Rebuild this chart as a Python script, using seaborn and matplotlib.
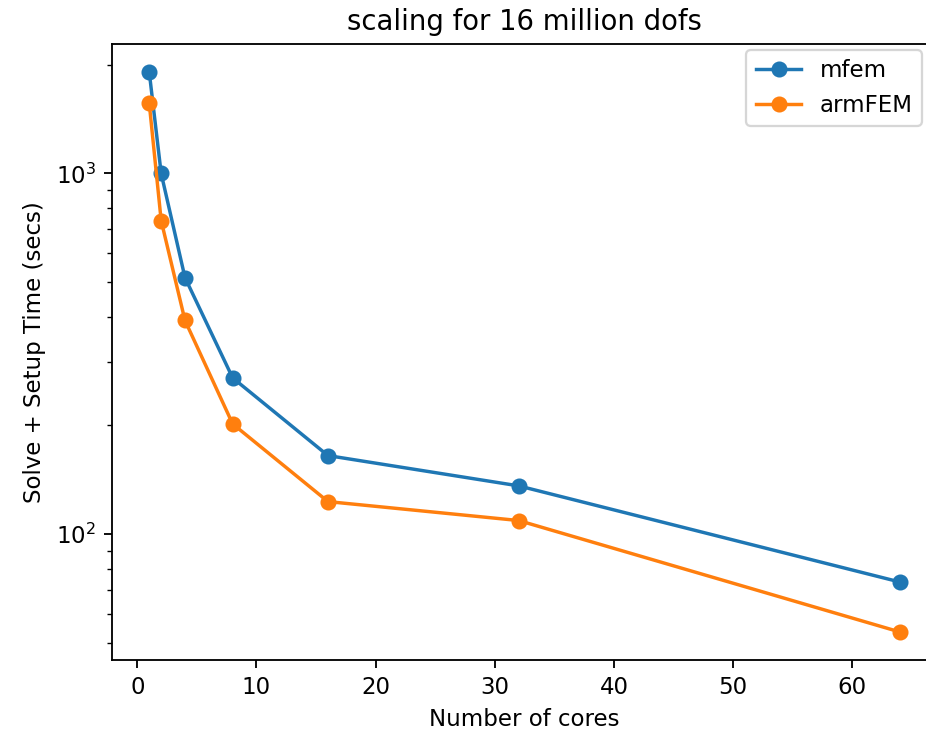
import matplotlib
matplotlib.use("Agg")
import matplotlib.pyplot as plt
import seaborn as sns
import pandas as pd

cores = [1, 2, 4, 8, 16, 32, 64]
mfem = [1910, 1000, 514, 271, 165, 136, 73.6]
armfem = [1564, 740, 391, 202, 123, 109, 53.5]

W, H, DPI = 926, 731, 165
left, right, top, bottom = 111.7, 937.5, 44, 660
fig = plt.figure(figsize=(W / DPI, H / DPI), dpi=DPI)
ax = fig.add_axes([left / W, 1 - bottom / H, (right - left) / W, (bottom - top) / H])

colors = ["#1f77b4", "#ff7f0e"]
for name, vals, c in [("mfem", mfem, colors[0]), ("armFEM", armfem, colors[1])]:
    df = pd.DataFrame({"cores": cores, "time": vals})
    sns.lineplot(data=df, x="cores", y="time", ax=ax, color=c, marker="o",
                 markersize=6, markeredgecolor=c, markeredgewidth=1,
                 linewidth=1.5, label=name)

ax.set_yscale("log")
ax.set_xlabel("Number of cores")
ax.set_ylabel("Solve + Setup Time (secs)")
ax.set_title("scaling for 16 million dofs")
ax.legend(loc="upper right",
          bbox_to_anchor=((922 - left) / (right - left), 1 - 6 / (bottom - top)),
          borderaxespad=0)
fig.savefig("out.png", dpi=DPI)
